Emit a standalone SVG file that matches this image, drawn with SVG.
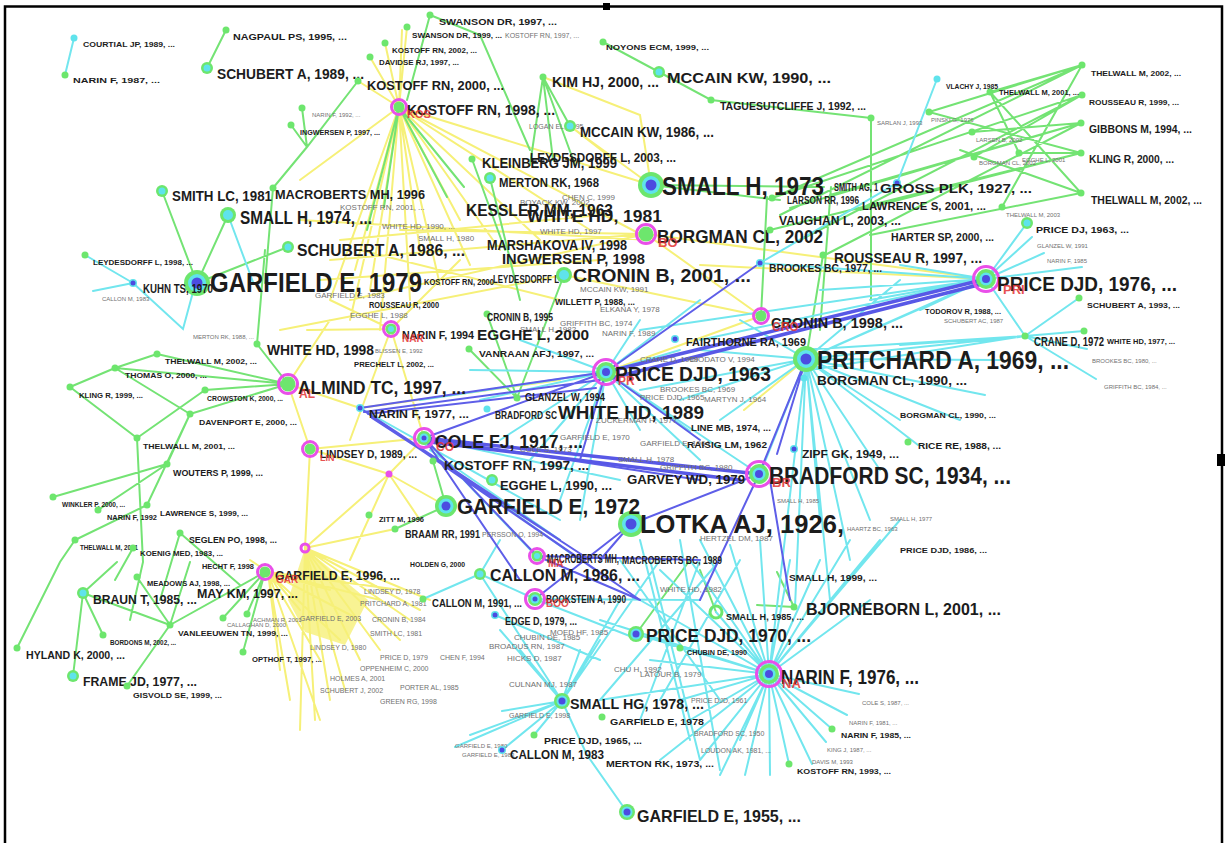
<svg xmlns="http://www.w3.org/2000/svg" xmlns:xlink="http://www.w3.org/1999/xlink" width="1226" height="843" viewBox="0 0 1226 843">
<style>
.e{fill:none;stroke-width:2;stroke-linecap:round}
.g{stroke:#74e374}
.y{stroke:#f6f078}
.c{stroke:#72e6ee}
.b{stroke:#5e5ee8}
.bt{stroke:#5858e6;stroke-width:3.5}
.yf{fill:#f6f078;opacity:.8}
.ng{fill:#6de66d}
.nc{fill:#5fe3ec}
.nb{fill:#4c4ce0}
.rg{fill:none;stroke:#e94fe9;stroke-width:3}
.t{font-family:"Liberation Sans",Arial,sans-serif;font-weight:bold;fill:#1c1c1c}
.s{font-family:"Liberation Sans",Arial,sans-serif;fill:#707070}
.r{font-family:"Liberation Sans",Arial,sans-serif;font-weight:bold;fill:#e33333;opacity:.85}
</style>
<defs>
<circle id="d" r="3.5" class="ng"/>
<circle id="dc" r="3.5" class="nc"/>
<g id="db"><circle r="4" class="nc"/><circle r="2.5" class="nb"/></g>
<g id="m"><circle r="6" class="ng"/><circle r="3.5" class="nc"/></g>
<g id="M"><circle r="8" class="ng"/><circle r="5" class="nc"/></g>
<g id="mb"><circle r="8" class="ng"/><circle r="5.5" class="nc"/><circle r="3.5" class="nb"/></g>
<g id="L"><circle r="11" class="ng"/><circle r="7.5" class="nc"/><circle r="4.5" class="nb"/></g>
<g id="XL"><circle r="13" class="ng"/><circle r="9" class="nc"/><circle r="5.5" class="nb"/></g>
<g id="Lr"><circle r="12.5" class="rg"/><circle r="10" class="ng"/><circle r="6.5" class="nc"/><circle r="4" class="nb"/></g>
<g id="mr"><circle r="7.5" class="rg"/><circle r="5.5" class="ng"/></g>
<g id="mrc"><circle r="7.5" class="rg"/><circle r="5.5" class="ng"/><circle r="3" class="nc"/></g>
<g id="Mr"><circle r="9.5" class="rg"/><circle r="7.5" class="ng"/></g>
<g id="Mrc"><circle r="9.5" class="rg"/><circle r="7" class="ng"/><circle r="4.5" class="nc"/><circle r="2.5" class="nb"/></g>
<circle id="sr" r="4" class="rg"/>
</defs>
<rect width="1226" height="843" fill="#ffffff"/>
<path d="M5 843V6.5H1222V843" fill="none" stroke="#000" stroke-width="2.5"/>
<rect x="603" y="3" width="7" height="7" fill="#000"/>
<rect x="1217" y="454" width="8" height="12" fill="#000"/>

<g id="connectors">
<path class="yf" d="M305 548L368 600L345 645L305 632L288 600Z"/>
<path class="e y" d="M399 107L402 30M399 107L385 43M399 107L370 57M399 107L407 27M399 107L358 81M399 107L330 300M399 107L350 320M399 107L380 330M399 107L410 300M399 107L440 285M399 107L470 265M399 107L500 250M399 107L540 240M399 107L590 230M399 107L640 234M399 107L300 180M399 107L651 185M399 107L460 220M399 107L355 270M399 107L420 250M399 107L370 290M543 77L640 115L651 185M570 126L651 185M570 126L614 160M300 220L650 240M330 260L646 234M350 300L646 234M280 330L564 275M400 230L646 234M320 280L600 260M360 250L560 300M340 240L600 215M646 234L761 316M564 275L761 316M646 234L986 279M761 316L606 372M700 265L986 279M806 359L744 410M330 320L288 384L310 449M288 384L360 408M307 330L391 329M391 329L330 300M391 329L460 260M391 329L350 440M391 329L424 438M360 408L560 380M310 449L424 438M389 474L310 449M389 474L305 548M389 474L446 506M389 474L350 560M389 474L420 520M389 474L424 438M305 548L310 449M305 548L300 730M305 548L315 720M305 548L330 700M305 548L345 690M305 548L360 660M305 548L380 650M305 548L400 640M305 548L410 620M305 548L420 610M305 548L430 600M268 572L290 700M268 572L280 670M268 572L320 660M268 572L340 640M268 572L360 620M268 572L380 600M268 572L400 590M268 572L330 590M268 572L300 610M268 572L320 720M268 572L250 560M305 548L395 529"/>
<path class="e g" d="M226 30L207 68M273 188L307 147L358 81M291 125L307 147M302 108L307 147M162 191L197 283M228 215L197 283M197 283L288 247M273 188L265 283M265 250L257 344M257 344L288 384M288 384L157 354M288 384L115 368M288 384L205 390M288 384L190 414M157 354L115 368M115 368L70 387M70 387L137 438M137 438L205 390M115 368L190 414M190 414L167 464M190 414L147 505M167 464L53 497M167 464L98 510M137 438L143 562L130 620M147 505L75 540M75 540L60 562L17 648M180 533L160 600M180 533L240 585M133 548L115 580M83 593L117 562M83 593L170 625M83 593L103 635M83 593L73 676M170 625L137 577M170 625L127 686M170 625L265 572M170 625L190 562M265 572L223 618M265 572L247 614M265 572L243 652M430 15L407 100M430 15L480 35L530 150M399 107L384 207M399 107L447 197M399 107L464 187M399 107L367 230M543 77L530 165M543 77L553 160M543 77L575 165M543 77L570 126M472 159L505 250M490 178L520 300M603 42L659 72L711 100L871 118M871 118L871 300M651 185L824 187M651 185L780 200M767 197L761 316M831 187L820 330M823 255L806 359M772 198L1082 65M772 198L1082 95M830 195L1081 123M790 208L1081 123M770 230L1081 153M860 210L1081 153M870 235L1081 193M800 240L1082 95M825 255L1081 123M780 215L1082 65M929 112L1082 65M929 112L1081 153M990 92L1082 65M990 92L1081 193M990 92L1019 153M972 132L1081 123M974 157L1082 95M1019 153L1081 153M1002 207L1082 65M960 150L1081 193M469 349L517 398L487 314M564 275L517 398M446 506L433 461M446 506L395 529M757 605L794 607M777 572L794 607M636 634L690 560M716 612L700 570"/>
<path class="e c" d="M74 38L65 75M85 255L133 283M133 283L93 291M133 283L183 329L193 292M228 215L253 282M937 79L897 183L760 263M986 279L1027 223M986 279L1032 237M986 279L1044 253M986 279L1082 267M986 279L1025 336M986 279L806 359M986 279L870 300M986 279L700 340M986 279L640 330M986 279L820 290M986 279L920 310M986 279L760 263M986 279L900 265M1025 336L1079 298M1025 336L1084 331M1025 336L1087 349M1025 336L1096 379M1025 336L806 359M1025 336L810 370M1025 336L800 350M1025 336L900 345M806 359L985 395M806 359L960 420M806 359L900 420M806 359L918 445M806 359L880 470M806 359L870 520M806 359L850 560M806 359L830 600M806 359L795 607M806 359L769 674M806 359L720 420M806 359L680 400M806 359L640 390M806 359L700 350M806 359L740 320M806 359L900 280M806 359L940 300M806 359L1000 360M806 359L760 474M806 359L820 520M606 372L480 400M606 372L500 440M606 372L530 460M606 372L560 500M606 372L580 520M606 372L640 430M606 372L690 431M606 372L700 460M606 372L680 350M606 372L640 320M606 372L700 300M606 372L470 370M606 372L420 400M606 372L520 340M606 372L759 474M769 674L859 694M769 674L847 715M769 674L832 729M769 674L826 742M769 674L812 764M769 674L789 764M769 674L770 775M769 674L745 775M769 674L720 775M769 674L700 760M769 674L690 720M769 674L680 700M769 674L650 660M769 674L636 634M769 674L640 600M769 674L660 570M769 674L690 560M769 674L700 540M769 674L730 545M769 674L760 540M769 674L790 560M769 674L820 560M769 674L850 540M769 674L880 540M769 674L900 520M769 674L870 600M769 674L716 612M769 674L600 620M769 674L600 700M769 674L660 760M769 674L740 740M620 560L720 700M650 560L700 760M700 560L640 720M720 560L600 700M680 540L720 770M640 540L690 740M740 560L660 700M562 701L455 747M562 701L470 735M562 701L502 711M562 701L534 735M562 701L502 750M562 701L600 640M562 701L620 600M562 701L660 560M562 701L580 650M562 701L520 650M562 701L500 630M562 701L587 755M562 701L480 574M480 574L423 599M480 574L535 599M480 574L500 540M587 755L627 812M360 408L560 520M424 438L540 560M430 450L560 540M440 460L580 560M424 438L620 480M470 370L606 372M535 599L640 640M535 599L700 600M495 615L600 660"/>
<path class="e b" d="M360 408L606 372M364 412L600 380M368 414L596 388M606 372L760 263M360 408L640 600M360 408L610 580M360 408L560 540M372 418L590 560M424 438L720 470M424 438L700 480M424 438L537 556M424 438L520 580M806 359L759 474M806 359L777 454M770 480L790 600M759 474L631 524M759 474L700 600M631 524L535 599M631 524L600 560M537 556L640 600M537 556L700 560M606 372L700 440M606 372L580 460M606 372L424 438"/>
<path class="e bt" d="M986 279L606 372M986 283L612 378M424 438L759 474M430 442L740 480"/>
</g>

<g id="clutter">
<text class="s" font-size="8" x="340" y="210">KOSTOFF RN, 2001, ...</text>
<text class="s" font-size="8" x="382" y="229">WHITE HD, 1990, ...</text>
<text class="s" font-size="8" x="418" y="241">SMALL H, 1980</text>
<text class="s" font-size="8" x="350" y="318">EGGHE L, 1988</text>
<text class="s" font-size="8" x="315" y="298">GARFIELD E, 1983</text>
<text class="s" font-size="8" x="520" y="205">BOYACK KW, 2002</text>
<text class="s" font-size="8" x="562" y="200">CHEN C, 1999</text>
<text class="s" font-size="8" x="540" y="234">WHITE HD, 1997</text>
<text class="s" font-size="8" x="580" y="292">MCCAIN KW, 1991</text>
<text class="s" font-size="8" x="560" y="326">GRIFFITH BC, 1974</text>
<text class="s" font-size="8" x="520" y="332">SMALL H, 1982</text>
<text class="s" font-size="8" x="602" y="336">NARIN F, 1989</text>
<text class="s" font-size="8" x="640" y="400">PRICE DJD, 1965</text>
<text class="s" font-size="8" x="596" y="423">ZUCKERMAN H, 1977</text>
<text class="s" font-size="8" x="640" y="446">GARFIELD E, 1964</text>
<text class="s" font-size="8" x="618" y="462">SMALL H, 1978</text>
<text class="s" font-size="8" x="660" y="470">GRIFFITH BC, 1980</text>
<text class="s" font-size="8" x="660" y="392">BROOKES BC, 1969</text>
<text class="s" font-size="8" x="704" y="402">MARTYN J, 1964</text>
<text class="s" font-size="8" x="520" y="452">COLE S, 1973</text>
<text class="s" font-size="8" x="560" y="440">GARFIELD E, 1970</text>
<text class="s" font-size="8" x="690" y="362">DIODATO V, 1994</text>
<text class="s" font-size="8" x="640" y="362">CRANE D, 1969</text>
<text class="s" font-size="8" x="600" y="312">ELKANA Y, 1978</text>
<text class="s" font-size="8" x="550" y="635">MOED HF, 1985</text>
<text class="s" font-size="8" x="514" y="640">CHUBIN DE, 1985</text>
<text class="s" font-size="8" x="489" y="649">BROADUS RN, 1987</text>
<text class="s" font-size="8" x="507" y="661">HICKS D, 1987</text>
<text class="s" font-size="8" x="640" y="677">LATOUR B, 1979</text>
<text class="s" font-size="8" x="509" y="687">CULNAN MJ, 1987</text>
<text class="s" font-size="7" x="509" y="718">GARFIELD E, 1998</text>
<text class="s" font-size="6" x="455" y="748">GARFIELD E, 1980</text>
<text class="s" font-size="6" x="462" y="757">GARFIELD E, 1983</text>
<text class="s" font-size="8" x="614" y="672">CHU H, 1992</text>
<text class="s" font-size="8" x="700" y="541">HERTZEL DM, 1987</text>
<text class="s" font-size="8" x="660" y="592">WHITE HD, 1982</text>
<text class="s" font-size="7" x="364" y="594">LINDSEY D, 1978</text>
<text class="s" font-size="7" x="360" y="606">PRITCHARD A, 1981</text>
<text class="s" font-size="7" x="300" y="621">GARFIELD E, 2003</text>
<text class="s" font-size="7" x="372" y="622">CRONIN B, 1984</text>
<text class="s" font-size="7" x="370" y="636">SMITH LC, 1981</text>
<text class="s" font-size="7" x="310" y="650">LINDSEY D, 1980</text>
<text class="s" font-size="7" x="380" y="660">PRICE D, 1979</text>
<text class="s" font-size="7" x="440" y="660">CHEN F, 1994</text>
<text class="s" font-size="7" x="360" y="671">OPPENHEIM C, 2000</text>
<text class="s" font-size="7" x="330" y="681">HOLMES A, 2001</text>
<text class="s" font-size="7" x="400" y="690">PORTER AL, 1985</text>
<text class="s" font-size="7" x="320" y="693">SCHUBERT J, 2002</text>
<text class="s" font-size="7" x="380" y="704">GREEN RG, 1998</text>
<text class="s" font-size="7" x="482" y="537">PERSSON O, 1994</text>
<text class="s" font-size="6" x="375" y="353">BLISSEN E, 1992</text>
<text class="s" font-size="6" x="847" y="531">HAARTZ BC, 1963</text>
<text class="s" font-size="6" x="777" y="503">SMALL H, 1985</text>
<text class="s" font-size="6" x="890" y="521">SMALL H, 1977</text>
<text class="s" font-size="6" x="931" y="122">PINSKI G, 1976</text>
<text class="s" font-size="6" x="976" y="142">LARSEN B, 2002</text>
<text class="s" font-size="6" x="979" y="165">BORGMAN CL, 2002</text>
<text class="s" font-size="6" x="1022" y="162">EGGHE L, 2001</text>
<text class="s" font-size="6" x="1006" y="217">THELWALL M, 2003</text>
<text class="s" font-size="6" x="877" y="125">SARLAN J, 1993</text>
<text class="s" font-size="6" x="1037" y="248">GLANZEL W, 1991</text>
<text class="s" font-size="6" x="1047" y="263">NARIN F, 1985</text>
<text class="s" font-size="6" x="944" y="323">SCHUBERT AC, 1987</text>
<text class="s" font-size="6" x="1092" y="363">BROOKES BC, 1980, ...</text>
<text class="s" font-size="6" x="1104" y="389">GRIFFITH BC, 1984, ...</text>
<text class="s" font-size="6" x="102" y="301">CALLON M, 1983</text>
<text class="s" font-size="6" x="193" y="339">MERTON RK, 1988, ...</text>
<text class="s" font-size="6" x="312" y="117">NARIN F, 1992, ...</text>
<text class="s" font-size="7" x="529" y="129">LOGAN EL, 1995</text>
<text class="s" font-size="6" x="862" y="705">COLE S, 1987, ...</text>
<text class="s" font-size="6" x="849" y="725">NARIN F, 1981, ...</text>
<text class="s" font-size="6" x="827" y="752">KING J, 1987, ...</text>
<text class="s" font-size="6" x="812" y="764">DAVIS M, 1993</text>
<text class="s" font-size="7" x="694" y="736">BRADFORD SC, 1950</text>
<text class="s" font-size="7" x="701" y="753">LOUDON AK, 1981, ...</text>
<text class="s" font-size="7" x="691" y="703">PRICE DJD, 1961</text>
<text class="s" font-size="6" x="227" y="627">CALLAGHAN D, 2000</text>
<text class="s" font-size="6" x="253" y="622">ACHMAN R, 2001</text>
</g>

<g id="n-garfield-1979"><use xlink:href="#XL" x="197" y="283"/><text class="t" x="210" y="292" font-size="28" textLength="212" lengthAdjust="spacingAndGlyphs">GARFIELD E, 1979</text></g>
<g id="n-small-h-1973"><use xlink:href="#XL" x="651" y="185"/><text class="t" x="662" y="195" font-size="25" textLength="162" lengthAdjust="spacingAndGlyphs">SMALL H, 1973</text></g>
<g id="n-price-djd-1976"><use xlink:href="#Lr" x="986" y="279"/><text class="t" x="997" y="291" font-size="20" textLength="180" lengthAdjust="spacingAndGlyphs">PRICE DJD, 1976, ...</text><text class="r" x="1003" y="294" font-size="13">PRI</text></g>
<g id="n-pritchard-1969"><use xlink:href="#XL" x="806" y="359"/><text class="t" x="817" y="369" font-size="25" textLength="252" lengthAdjust="spacingAndGlyphs">PRITCHARD A, 1969, ...</text></g>
<g id="n-price-djd-1963"><use xlink:href="#Lr" x="606" y="372"/><text class="t" x="615" y="381" font-size="21" textLength="156" lengthAdjust="spacingAndGlyphs">PRICE DJD, 1963</text><text class="r" x="618" y="385" font-size="12">PR</text></g>
<g id="n-bradford-1934"><use xlink:href="#Lr" x="759" y="474"/><text class="t" x="769" y="484" font-size="24" textLength="242" lengthAdjust="spacingAndGlyphs">BRADFORD SC, 1934, ...</text><text class="r" x="772" y="487" font-size="13">BR</text></g>
<g id="n-lotka-1926"><use xlink:href="#XL" x="631" y="524"/><text class="t" x="640" y="533" font-size="26" textLength="204" lengthAdjust="spacingAndGlyphs">LOTKA AJ, 1926,</text></g>
<g id="n-garfield-1972"><use xlink:href="#L" x="446" y="506"/><text class="t" x="457" y="514" font-size="22" textLength="183" lengthAdjust="spacingAndGlyphs">GARFIELD E, 1972</text></g>
<g id="n-cronin-2001"><use xlink:href="#M" x="564" y="275"/><text class="t" x="573" y="282" font-size="19" textLength="178" lengthAdjust="spacingAndGlyphs">CRONIN B, 2001, ...</text></g>
<g id="n-almind-1997"><use xlink:href="#Mr" x="288" y="384"/><text class="t" x="298" y="394" font-size="19" textLength="168" lengthAdjust="spacingAndGlyphs">ALMIND TC, 1997, ...</text><text class="r" x="299" y="398" font-size="12">AL</text></g>
<g id="n-small-h-1974"><use xlink:href="#M" x="228" y="215"/><text class="t" x="240" y="224" font-size="18" textLength="132" lengthAdjust="spacingAndGlyphs">SMALL H, 1974, ...</text></g>
<g id="n-cole-1917"><use xlink:href="#Mrc" x="424" y="438"/><text class="t" x="435" y="448" font-size="18" textLength="148" lengthAdjust="spacingAndGlyphs">COLE FJ, 1917, ...</text><text class="r" x="436" y="451" font-size="12">CO</text></g>
<g id="n-white-hd-1989"><text class="t" x="558" y="419" font-size="19" textLength="146" lengthAdjust="spacingAndGlyphs">WHITE HD, 1989</text></g>
<g id="n-borgman-2002"><use xlink:href="#Mr" x="646" y="234"/><text class="t" x="657" y="243" font-size="19" textLength="166" lengthAdjust="spacingAndGlyphs">BORGMAN CL, 2002</text><text class="r" x="658" y="247" font-size="13">BO</text></g>
<g id="n-kessler-1963"><text class="t" x="466" y="216" font-size="17" textLength="147" lengthAdjust="spacingAndGlyphs">KESSLER MM, 1963</text></g>
<g id="n-white-hd-1981"><text class="t" x="527" y="222" font-size="17" textLength="135" lengthAdjust="spacingAndGlyphs">WHITE HD, 1981</text></g>
<g id="n-price-djd-1970"><use xlink:href="#mb" x="636" y="634"/><text class="t" x="646" y="642" font-size="19" textLength="165" lengthAdjust="spacingAndGlyphs">PRICE DJD, 1970, ...</text></g>
<g id="n-narin-1976"><use xlink:href="#Lr" x="769" y="674"/><text class="t" x="781" y="684" font-size="20" textLength="138" lengthAdjust="spacingAndGlyphs">NARIN F, 1976, ...</text><text class="r" x="782" y="688" font-size="13">NA</text></g>
<g id="n-bjorneborn-2001"><use xlink:href="#d" x="794" y="607"/><text class="t" x="806" y="615" font-size="17" textLength="195" lengthAdjust="spacingAndGlyphs">BJORNEBORN L, 2001, ...</text></g>
<g id="n-garfield-1955"><use xlink:href="#mb" x="627" y="812"/><text class="t" x="637" y="822" font-size="17" textLength="164" lengthAdjust="spacingAndGlyphs">GARFIELD E, 1955, ...</text></g>
<g id="n-callon-1986"><use xlink:href="#m" x="480" y="574"/><text class="t" x="490" y="581" font-size="16" textLength="150" lengthAdjust="spacingAndGlyphs">CALLON M, 1986, ...</text></g>
<g id="n-mccain-1990"><use xlink:href="#m" x="659" y="72"/><text class="t" x="667" y="83" font-size="15" textLength="164" lengthAdjust="spacingAndGlyphs">MCCAIN KW, 1990, ...</text></g>
<g id="n-schubert-1989"><use xlink:href="#m" x="207" y="68"/><text class="t" x="217" y="79" font-size="14" textLength="147" lengthAdjust="spacingAndGlyphs">SCHUBERT A, 1989, ...</text></g>
<g id="n-schubert-1986"><use xlink:href="#m" x="288" y="247"/><text class="t" x="297" y="256" font-size="16" textLength="168" lengthAdjust="spacingAndGlyphs">SCHUBERT A, 1986, ...</text></g>
<g id="n-smith-lc-1981"><use xlink:href="#m" x="162" y="191"/><text class="t" x="172" y="201" font-size="14" textLength="100" lengthAdjust="spacingAndGlyphs">SMITH LC, 1981</text></g>
<g id="n-macroberts-1996a"><use xlink:href="#d" x="273" y="188"/><text class="t" x="275" y="199" font-size="12" textLength="150" lengthAdjust="spacingAndGlyphs">MACROBERTS MH, 1996</text></g>
<g id="n-kostoff-1998"><use xlink:href="#mr" x="399" y="107"/><text class="t" x="407" y="115" font-size="15" textLength="148" lengthAdjust="spacingAndGlyphs">KOSTOFF RN, 1998, ...</text><text class="r" x="407" y="118" font-size="11">KOS</text></g>
<g id="n-kostoff-2000"><use xlink:href="#d" x="358" y="81"/><text class="t" x="367" y="90" font-size="12" textLength="137" lengthAdjust="spacingAndGlyphs">KOSTOFF RN, 2000, ...</text></g>
<g id="n-mccain-1986"><use xlink:href="#m" x="570" y="126"/><text class="t" x="580" y="137" font-size="14" textLength="134" lengthAdjust="spacingAndGlyphs">MCCAIN KW, 1986, ...</text></g>
<g id="n-kim-2000"><use xlink:href="#d" x="543" y="77"/><text class="t" x="552" y="87" font-size="14" textLength="107" lengthAdjust="spacingAndGlyphs">KIM HJ, 2000, ...</text></g>
<g id="n-kleinberg-1999"><use xlink:href="#d" x="472" y="159"/><text class="t" x="482" y="168" font-size="14" textLength="135" lengthAdjust="spacingAndGlyphs">KLEINBERG JM, 1999</text><text class="t" x="530" y="162" font-size="12" textLength="146" lengthAdjust="spacingAndGlyphs">LEYDESDORFF L, 2003, ...</text></g>
<g id="n-merton"><use xlink:href="#m" x="490" y="178"/><text class="t" x="499" y="187" font-size="13" textLength="100" lengthAdjust="spacingAndGlyphs">MERTON RK, 1968</text></g>
<g id="n-marshakova"><text class="t" x="487" y="250" font-size="15" textLength="140" lengthAdjust="spacingAndGlyphs">MARSHAKOVA IV, 1998</text></g>
<g id="n-ingwersen-1998"><text class="t" x="502" y="264" font-size="15" textLength="143" lengthAdjust="spacingAndGlyphs">INGWERSEN P, 1998</text></g>
<g id="n-leydesdorff-c"><text class="t" x="493" y="283" font-size="11" textLength="66" lengthAdjust="spacingAndGlyphs">LEYDESDORFF L</text></g>
<g id="n-rousseau-1997"><use xlink:href="#d" x="823" y="255"/><text class="t" x="834" y="263" font-size="14" textLength="148" lengthAdjust="spacingAndGlyphs">ROUSSEAU R, 1997, ...</text></g>
<g id="n-brookes-1977"><use xlink:href="#db" x="760" y="263"/><text class="t" x="769" y="272" font-size="10" textLength="113" lengthAdjust="spacingAndGlyphs">BROOKES BC, 1977, ...</text></g>
<g id="n-vaughan-2003"><use xlink:href="#d" x="770" y="230"/><text class="t" x="779" y="225" font-size="12" textLength="122" lengthAdjust="spacingAndGlyphs">VAUGHAN L, 2003, ...</text></g>
<g id="n-larson-1996"><use xlink:href="#d" x="772" y="198"/><text class="t" x="787" y="204" font-size="11" textLength="72" lengthAdjust="spacingAndGlyphs">LARSON RR, 1996</text></g>
<g id="n-lawrence-2001"><text class="t" x="862" y="210" font-size="10" textLength="124" lengthAdjust="spacingAndGlyphs">LAWRENCE S, 2001, ...</text></g>
<g id="n-smith-ag"><text class="t" x="834" y="191" font-size="11" textLength="44" lengthAdjust="spacingAndGlyphs">SMITH AG, 1</text></g>
<g id="n-gross-1927"><use xlink:href="#db" x="897" y="183"/><text class="t" x="880" y="193" font-size="13" textLength="152" lengthAdjust="spacingAndGlyphs">GROSS PLK, 1927, ...</text></g>
<g id="n-harter-2000"><text class="t" x="891" y="241" font-size="11" textLength="103" lengthAdjust="spacingAndGlyphs">HARTER SP, 2000, ...</text></g>
<g id="n-taguesutcliffe-1992"><use xlink:href="#d" x="711" y="100"/><text class="t" x="720" y="110" font-size="10" textLength="146" lengthAdjust="spacingAndGlyphs">TAGUESUTCLIFFE J, 1992, ...</text></g>
<g id="n-noyons-1999"><use xlink:href="#d" x="603" y="42"/><text class="t" x="606" y="50" font-size="8" textLength="103" lengthAdjust="spacingAndGlyphs">NOYONS ECM, 1999, ...</text></g>
<g id="n-swanson-1997"><use xlink:href="#d" x="430" y="15"/><text class="t" x="439" y="25" font-size="9" textLength="118" lengthAdjust="spacingAndGlyphs">SWANSON DR, 1997, ...</text></g>
<g id="n-swanson-1999"><use xlink:href="#d" x="407" y="27"/><text class="t" x="412" y="38" font-size="8" textLength="90" lengthAdjust="spacingAndGlyphs">SWANSON DR, 1999, ...</text><text class="s" x="505" y="38" font-size="7">KOSTOFF RN, 1997, ...</text></g>
<g id="n-kostoff-2002"><use xlink:href="#d" x="385" y="43"/><text class="t" x="392" y="53" font-size="8" textLength="85" lengthAdjust="spacingAndGlyphs">KOSTOFF RN, 2002, ...</text></g>
<g id="n-davidse-1997"><use xlink:href="#d" x="370" y="57"/><text class="t" x="379" y="65" font-size="8" textLength="80" lengthAdjust="spacingAndGlyphs">DAVIDSE RJ, 1997, ...</text></g>
<g id="n-ingwersen-1997"><use xlink:href="#d" x="291" y="125"/><text class="t" x="300" y="135" font-size="8" textLength="80" lengthAdjust="spacingAndGlyphs">INGWERSEN P, 1997, ...</text></g>
<g id="n-narin-1992t"><use xlink:href="#d" x="302" y="108"/></g>
<g id="n-nagpaul-1995"><use xlink:href="#d" x="226" y="30"/><text class="t" x="233" y="40" font-size="9" textLength="114" lengthAdjust="spacingAndGlyphs">NAGPAUL PS, 1995, ...</text></g>
<g id="n-courtial-1989"><use xlink:href="#dc" x="74" y="38"/><text class="t" x="83" y="47" font-size="8" textLength="92" lengthAdjust="spacingAndGlyphs">COURTIAL JP, 1989, ...</text></g>
<g id="n-narin-1987"><use xlink:href="#d" x="65" y="75"/><text class="t" x="73" y="83" font-size="8" textLength="87" lengthAdjust="spacingAndGlyphs">NARIN F, 1987, ...</text></g>
<g id="n-leydesdorff-1998"><use xlink:href="#d" x="85" y="255"/><text class="t" x="93" y="265" font-size="8" textLength="100" lengthAdjust="spacingAndGlyphs">LEYDESDORFF L, 1998, ...</text></g>
<g id="n-kuhn-1970"><use xlink:href="#db" x="133" y="283"/><text class="t" x="143" y="293" font-size="12" textLength="70" lengthAdjust="spacingAndGlyphs">KUHN TS, 1970</text></g>
<g id="n-white-hd-1998"><use xlink:href="#d" x="257" y="344"/><text class="t" x="267" y="355" font-size="14" textLength="107" lengthAdjust="spacingAndGlyphs">WHITE HD, 1998</text></g>
<g id="n-thelwall-2002l"><use xlink:href="#d" x="157" y="354"/><text class="t" x="165" y="364" font-size="8" textLength="92" lengthAdjust="spacingAndGlyphs">THELWALL M, 2002, ...</text></g>
<g id="n-thomas-2000"><use xlink:href="#d" x="115" y="368"/><text class="t" x="125" y="378" font-size="8" textLength="82" lengthAdjust="spacingAndGlyphs">THOMAS O, 2000, ...</text></g>
<g id="n-kling-1999"><use xlink:href="#d" x="70" y="387"/><text class="t" x="79" y="398" font-size="7" textLength="64" lengthAdjust="spacingAndGlyphs">KLING R, 1999, ...</text></g>
<g id="n-crowston-2000"><use xlink:href="#d" x="205" y="390"/><text class="t" x="207" y="401" font-size="7" textLength="76" lengthAdjust="spacingAndGlyphs">CROWSTON K, 2000, ...</text></g>
<g id="n-davenport-2000"><use xlink:href="#d" x="190" y="414"/><text class="t" x="199" y="425" font-size="8" textLength="98" lengthAdjust="spacingAndGlyphs">DAVENPORT E, 2000, ...</text></g>
<g id="n-thelwall-2001l"><use xlink:href="#d" x="137" y="438"/><text class="t" x="143" y="449" font-size="8" textLength="92" lengthAdjust="spacingAndGlyphs">THELWALL M, 2001, ...</text></g>
<g id="n-wouters-1999"><use xlink:href="#d" x="167" y="464"/><text class="t" x="173" y="476" font-size="9" textLength="90" lengthAdjust="spacingAndGlyphs">WOUTERS P, 1999, ...</text></g>
<g id="n-winkler-2000"><use xlink:href="#d" x="53" y="497"/><text class="t" x="62" y="507" font-size="7" textLength="63" lengthAdjust="spacingAndGlyphs">WINKLER P, 2000, ...</text></g>
<g id="n-narin-1992l"><use xlink:href="#d" x="98" y="510"/><text class="t" x="107" y="520" font-size="7" textLength="50" lengthAdjust="spacingAndGlyphs">NARIN F, 1992</text></g>
<g id="n-lawrence-1999"><use xlink:href="#d" x="147" y="505"/><text class="t" x="160" y="516" font-size="8" textLength="88" lengthAdjust="spacingAndGlyphs">LAWRENCE S, 1999, ...</text></g>
<g id="n-thelwall-2001b"><use xlink:href="#d" x="75" y="540"/><text class="t" x="80" y="550" font-size="7" textLength="58" lengthAdjust="spacingAndGlyphs">THELWALL M, 2001</text></g>
<g id="n-seglen-1998"><use xlink:href="#d" x="180" y="533"/><text class="t" x="189" y="543" font-size="9" textLength="88" lengthAdjust="spacingAndGlyphs">SEGLEN PO, 1998, ...</text></g>
<g id="n-koenig-1983"><use xlink:href="#d" x="133" y="548"/><text class="t" x="140" y="556" font-size="8" textLength="83" lengthAdjust="spacingAndGlyphs">KOENIG MED, 1983, ...</text></g>
<g id="n-hecht-1998"><text class="t" x="202" y="569" font-size="7" textLength="52" lengthAdjust="spacingAndGlyphs">HECHT F, 1998</text></g>
<g id="n-meadows-1998"><use xlink:href="#d" x="137" y="577"/><text class="t" x="147" y="586" font-size="8" textLength="83" lengthAdjust="spacingAndGlyphs">MEADOWS AJ, 1998, ...</text></g>
<g id="n-may-1997"><text class="t" x="197" y="598" font-size="12" textLength="101" lengthAdjust="spacingAndGlyphs">MAY KM, 1997, ...</text></g>
<g id="n-braun-1985"><use xlink:href="#m" x="83" y="593"/><text class="t" x="93" y="604" font-size="13" textLength="104" lengthAdjust="spacingAndGlyphs">BRAUN T, 1985, ...</text></g>
<g id="n-vanleeuwen-1999"><use xlink:href="#d" x="170" y="625"/><text class="t" x="178" y="636" font-size="8" textLength="110" lengthAdjust="spacingAndGlyphs">VANLEEUWEN TN, 1999, ...</text></g>
<g id="n-bordons-2002"><use xlink:href="#d" x="103" y="635"/><text class="t" x="110" y="645" font-size="7" textLength="66" lengthAdjust="spacingAndGlyphs">BORDONS M, 2002, ...</text></g>
<g id="n-hyland-2000"><use xlink:href="#d" x="17" y="648"/><text class="t" x="26" y="659" font-size="10" textLength="99" lengthAdjust="spacingAndGlyphs">HYLAND K, 2000, ...</text></g>
<g id="n-opthof-1997"><use xlink:href="#d" x="243" y="652"/><text class="t" x="252" y="662" font-size="8" textLength="70" lengthAdjust="spacingAndGlyphs">OPTHOF T, 1997, ...</text></g>
<g id="n-frame-1977"><use xlink:href="#m" x="73" y="676"/><text class="t" x="83" y="686" font-size="13" textLength="114" lengthAdjust="spacingAndGlyphs">FRAME JD, 1977, ...</text></g>
<g id="n-gisvold-1999"><use xlink:href="#d" x="127" y="686"/><text class="t" x="133" y="698" font-size="8" textLength="89" lengthAdjust="spacingAndGlyphs">GISVOLD SE, 1999, ...</text></g>
<g id="n-callaghan"><use xlink:href="#d" x="223" y="618"/><use xlink:href="#d" x="247" y="614"/></g>
<g id="n-garfield-1996"><use xlink:href="#mr" x="265" y="572"/><use xlink:href="#sr" x="305" y="548"/><text class="t" x="275" y="580" font-size="12" textLength="125" lengthAdjust="spacingAndGlyphs">GARFIELD E, 1996, ...</text><text class="r" x="276" y="583" font-size="10">GAR</text></g>
<g id="n-callon-1991"><use xlink:href="#d" x="423" y="599"/><text class="t" x="432" y="607" font-size="10" textLength="90" lengthAdjust="spacingAndGlyphs">CALLON M, 1991, ...</text></g>
<g id="n-edge-1979"><use xlink:href="#db" x="495" y="615"/><text class="t" x="505" y="625" font-size="10" textLength="72" lengthAdjust="spacingAndGlyphs">EDGE D, 1979, ...</text></g>
<g id="n-holden-2000"><text class="t" x="410" y="567" font-size="7" textLength="55" lengthAdjust="spacingAndGlyphs">HOLDEN G, 2000</text></g>
<g id="n-braam-1991"><use xlink:href="#d" x="395" y="529"/><text class="t" x="405" y="538" font-size="10" textLength="75" lengthAdjust="spacingAndGlyphs">BRAAM RR, 1991</text></g>
<g id="n-zitt-1996"><use xlink:href="#d" x="369" y="515"/><text class="t" x="379" y="522" font-size="7" textLength="45" lengthAdjust="spacingAndGlyphs">ZITT M, 1996</text></g>
<g id="n-macroberts-1996b"><use xlink:href="#mrc" x="537" y="556"/><text class="t" x="547" y="563" font-size="12" textLength="72" lengthAdjust="spacingAndGlyphs">MACROBERTS MH,</text><text class="t" x="622" y="564" font-size="11" textLength="100" lengthAdjust="spacingAndGlyphs">MACROBERTS BC, 1989</text><text class="r" x="548" y="567" font-size="10">MA</text></g>
<g id="n-bookstein"><use xlink:href="#Mrc" x="535" y="599"/><text class="t" x="546" y="603" font-size="10" textLength="80" lengthAdjust="spacingAndGlyphs">BOOKSTEIN A, 1990</text><text class="r" x="546" y="607" font-size="10">BOO</text></g>
<g id="n-small-hg-1978"><use xlink:href="#mb" x="562" y="701"/><text class="t" x="570" y="709" font-size="14" textLength="134" lengthAdjust="spacingAndGlyphs">SMALL HG, 1978, ...</text></g>
<g id="n-garfield-1978"><use xlink:href="#d" x="602" y="717"/><text class="t" x="610" y="725" font-size="9" textLength="94" lengthAdjust="spacingAndGlyphs">GARFIELD E, 1978</text></g>
<g id="n-price-djd-1965"><use xlink:href="#d" x="534" y="735"/><text class="t" x="544" y="744" font-size="9" textLength="98" lengthAdjust="spacingAndGlyphs">PRICE DJD, 1965, ...</text></g>
<g id="n-callon-1983"><use xlink:href="#db" x="502" y="750"/><text class="t" x="510" y="759" font-size="13" textLength="94" lengthAdjust="spacingAndGlyphs">CALLON M, 1983</text></g>
<g id="n-merton-1973"><text class="t" x="606" y="767" font-size="9" textLength="108" lengthAdjust="spacingAndGlyphs">MERTON RK, 1973, ...</text></g>
<g id="n-small-h-1999"><text class="t" x="789" y="581" font-size="9" textLength="88" lengthAdjust="spacingAndGlyphs">SMALL H, 1999, ...</text></g>
<g id="n-small-h-1985"><circle cx="716" cy="612" r="6" fill="none" stroke="#6de66d" stroke-width="3"/><text class="t" x="726" y="620" font-size="9" textLength="78" lengthAdjust="spacingAndGlyphs">SMALL H, 1985, ...</text></g>
<g id="n-chubin-1990"><use xlink:href="#d" x="680" y="648"/><text class="t" x="687" y="655" font-size="7" textLength="60" lengthAdjust="spacingAndGlyphs">CHUBIN DE, 1990</text></g>
<g id="n-narin-1985"><use xlink:href="#d" x="832" y="729"/><text class="t" x="841" y="738" font-size="8" textLength="70" lengthAdjust="spacingAndGlyphs">NARIN F, 1985, ...</text></g>
<g id="n-kostoff-1993"><use xlink:href="#d" x="789" y="764"/><text class="t" x="797" y="774" font-size="8" textLength="94" lengthAdjust="spacingAndGlyphs">KOSTOFF RN, 1993, ...</text></g>
<g id="n-cronin-1998"><use xlink:href="#mr" x="761" y="316"/><text class="t" x="771" y="328" font-size="14" textLength="132" lengthAdjust="spacingAndGlyphs">CRONIN B, 1998, ...</text><text class="r" x="772" y="331" font-size="12">CRO</text></g>
<g id="n-fairthorne-1969"><use xlink:href="#db" x="675" y="339"/><text class="t" x="686" y="346" font-size="11" textLength="120" lengthAdjust="spacingAndGlyphs">FAIRTHORNE RA, 1969</text></g>
<g id="n-borgman-1990"><use xlink:href="#dc" x="804" y="378"/><text class="t" x="817" y="385" font-size="12" textLength="150" lengthAdjust="spacingAndGlyphs">BORGMAN CL, 1990, ...</text></g>
<g id="n-line-1974"><text class="t" x="691" y="431" font-size="9" textLength="80" lengthAdjust="spacingAndGlyphs">LINE MB, 1974, ...</text></g>
<g id="n-raisig-1962"><text class="t" x="687" y="448" font-size="9" textLength="80" lengthAdjust="spacingAndGlyphs">RAISIG LM, 1962</text></g>
<g id="n-zipf-1949"><use xlink:href="#db" x="794" y="449"/><text class="t" x="802" y="458" font-size="11" textLength="97" lengthAdjust="spacingAndGlyphs">ZIPF GK, 1949, ...</text></g>
<g id="n-garvey-1979"><text class="t" x="627" y="484" font-size="12" textLength="118" lengthAdjust="spacingAndGlyphs">GARVEY WD, 1979</text></g>
<g id="n-rice-1988"><use xlink:href="#d" x="908" y="442"/><text class="t" x="918" y="449" font-size="9" textLength="83" lengthAdjust="spacingAndGlyphs">RICE RE, 1988, ...</text></g>
<g id="n-todorov-1988"><text class="t" x="925" y="314" font-size="8" textLength="76" lengthAdjust="spacingAndGlyphs">TODOROV R, 1988, ...</text></g>
<g id="n-schubert-1993"><use xlink:href="#d" x="1079" y="298"/><text class="t" x="1087" y="308" font-size="8" textLength="93" lengthAdjust="spacingAndGlyphs">SCHUBERT A, 1993, ...</text></g>
<g id="n-crane-1972"><use xlink:href="#d" x="1025" y="336"/><use xlink:href="#d" x="1084" y="331"/><text class="t" x="1034" y="346" font-size="12" textLength="70" lengthAdjust="spacingAndGlyphs">CRANE D, 1972</text><text class="t" x="1107" y="344" font-size="7" textLength="68" lengthAdjust="spacingAndGlyphs">WHITE HD, 1977, ...</text></g>
<g id="n-borgman-1990s"><text class="t" x="900" y="418" font-size="8" textLength="96" lengthAdjust="spacingAndGlyphs">BORGMAN CL, 1990, ...</text></g>
<g id="n-price-djd-1986"><text class="t" x="900" y="553" font-size="7" textLength="87" lengthAdjust="spacingAndGlyphs">PRICE DJD, 1986, ...</text></g>
<g id="n-thelwall-2002a"><use xlink:href="#d" x="1082" y="65"/><text class="t" x="1091" y="76" font-size="8" textLength="90" lengthAdjust="spacingAndGlyphs">THELWALL M, 2002, ...</text></g>
<g id="n-rousseau-1999"><use xlink:href="#d" x="1082" y="95"/><text class="t" x="1089" y="105" font-size="8" textLength="90" lengthAdjust="spacingAndGlyphs">ROUSSEAU R, 1999, ...</text></g>
<g id="n-gibbons-1994"><use xlink:href="#d" x="1081" y="123"/><text class="t" x="1089" y="133" font-size="10" textLength="103" lengthAdjust="spacingAndGlyphs">GIBBONS M, 1994, ...</text></g>
<g id="n-kling-2000"><use xlink:href="#d" x="1081" y="153"/><text class="t" x="1089" y="163" font-size="10" textLength="85" lengthAdjust="spacingAndGlyphs">KLING R, 2000, ...</text></g>
<g id="n-thelwall-2002b"><use xlink:href="#d" x="1081" y="193"/><text class="t" x="1091" y="204" font-size="10" textLength="111" lengthAdjust="spacingAndGlyphs">THELWALL M, 2002, ...</text></g>
<g id="n-vlachy-1985"><use xlink:href="#dc" x="937" y="79"/><text class="t" x="946" y="89" font-size="8" textLength="52" lengthAdjust="spacingAndGlyphs">VLACHY J, 1985</text></g>
<g id="n-thelwall-2001a"><use xlink:href="#d" x="990" y="92"/><text class="t" x="999" y="95" font-size="8" textLength="80" lengthAdjust="spacingAndGlyphs">THELWALL M, 2001, ...</text></g>
<g id="n-right-small"><use xlink:href="#d" x="929" y="112"/><use xlink:href="#d" x="972" y="132"/><use xlink:href="#d" x="974" y="157"/><use xlink:href="#d" x="1019" y="153"/><use xlink:href="#d" x="1002" y="207"/><use xlink:href="#d" x="871" y="118"/></g>
<g id="n-price-dj-1963"><use xlink:href="#m" x="1027" y="223"/><text class="t" x="1036" y="233" font-size="9" textLength="93" lengthAdjust="spacingAndGlyphs">PRICE DJ, 1963, ...</text></g>
<g id="n-roussea-2000"><text class="t" x="369" y="308" font-size="9" textLength="70" lengthAdjust="spacingAndGlyphs">ROUSSEAU R, 2000</text></g>
<g id="n-kostoff-2000c"><text class="t" x="424" y="285" font-size="9" textLength="70" lengthAdjust="spacingAndGlyphs">KOSTOFF RN, 2000</text></g>
<g id="n-willett-1988"><text class="t" x="555" y="305" font-size="9" textLength="80" lengthAdjust="spacingAndGlyphs">WILLETT P, 1988, ...</text></g>
<g id="n-cronin-1995"><use xlink:href="#d" x="487" y="314"/><text class="t" x="487" y="321" font-size="10" textLength="66" lengthAdjust="spacingAndGlyphs">CRONIN B, 1995</text></g>
<g id="n-narin-1994"><use xlink:href="#mrc" x="391" y="329"/><text class="t" x="402" y="339" font-size="11" textLength="72" lengthAdjust="spacingAndGlyphs">NARIN F, 1994</text><text class="t" x="477" y="340" font-size="14" textLength="112" lengthAdjust="spacingAndGlyphs">EGGHE L, 2000</text><text class="r" x="402" y="342" font-size="10">NAR</text></g>
<g id="n-vanraan-1997"><use xlink:href="#d" x="469" y="349"/><text class="t" x="479" y="357" font-size="9" textLength="115" lengthAdjust="spacingAndGlyphs">VANRAAN AFJ, 1997, ...</text></g>
<g id="n-prechelt-2002"><text class="t" x="354" y="367" font-size="8" textLength="80" lengthAdjust="spacingAndGlyphs">PRECHELT L, 2002, ...</text></g>
<g id="n-narin-1977"><use xlink:href="#db" x="360" y="408"/><text class="t" x="369" y="418" font-size="11" textLength="100" lengthAdjust="spacingAndGlyphs">NARIN F, 1977, ...</text></g>
<g id="n-glanzel-1994"><use xlink:href="#d" x="517" y="398"/><text class="t" x="525" y="401" font-size="10" textLength="80" lengthAdjust="spacingAndGlyphs">GLANZEL W, 1994</text></g>
<g id="n-bradford-s"><use xlink:href="#dc" x="487" y="409"/><text class="t" x="495" y="419" font-size="10" textLength="62" lengthAdjust="spacingAndGlyphs">BRADFORD SC</text></g>
<g id="n-lindsey-1989"><use xlink:href="#mr" x="310" y="449"/><text class="t" x="320" y="458" font-size="10" textLength="97" lengthAdjust="spacingAndGlyphs">LINDSEY D, 1989, ...</text><text class="r" x="320" y="461" font-size="9">LIN</text></g>
<g id="n-l52"><circle cx="389" cy="474" r="3.5" fill="#e94fe9"/><use xlink:href="#d" x="433" y="461"/></g>
<g id="n-kostoff-1997"><text class="t" x="444" y="470" font-size="12" textLength="145" lengthAdjust="spacingAndGlyphs">KOSTOFF RN, 1997, ...</text></g>
<g id="n-egghe-1990"><use xlink:href="#m" x="492" y="480"/><text class="t" x="500" y="490" font-size="13" textLength="112" lengthAdjust="spacingAndGlyphs">EGGHE L, 1990, ...</text></g>
</svg>
